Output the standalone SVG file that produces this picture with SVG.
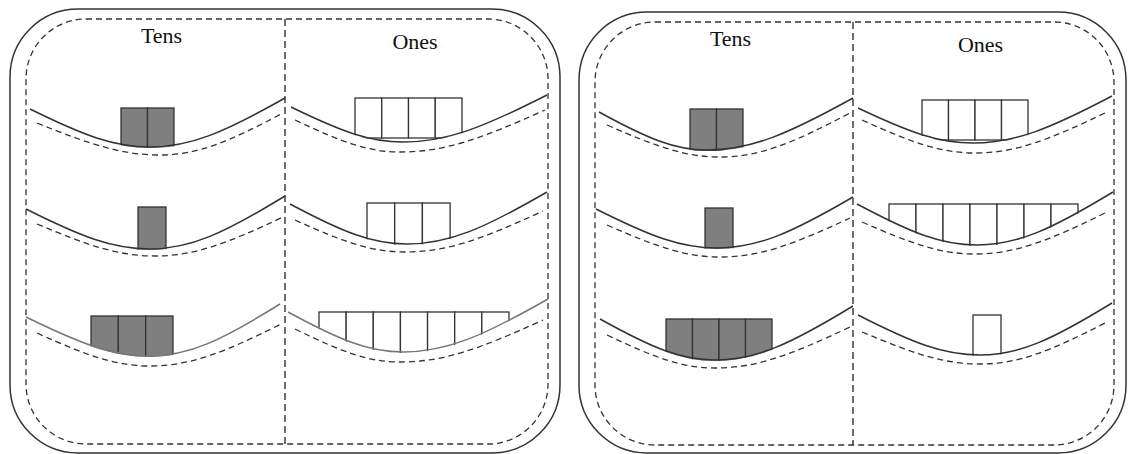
<svg xmlns="http://www.w3.org/2000/svg" width="1128" height="454" viewBox="0 0 1128 454">
<style>
.outer{fill:none;stroke:#333;stroke-width:1.5}
.inner{fill:none;stroke:#333;stroke-width:1.3;stroke-dasharray:6 4}
.div{fill:none;stroke:#222;stroke-width:1.3;stroke-dasharray:7 4}
.s{fill:none;stroke:#333;stroke-width:1.5}
.s3{fill:none;stroke:#777;stroke-width:1.5}
.d{fill:none;stroke:#333;stroke-width:1.3;stroke-dasharray:6 4}
.t{fill:#7f7f7f;stroke:#333;stroke-width:1.3}
.o{fill:#fff;stroke:#333;stroke-width:1.3}
.lbl{font-family:"Liberation Serif","Times New Roman",serif;font-size:22px;fill:#111;text-anchor:middle}
</style>
<defs>
<clipPath id="cLT1" clipPathUnits="userSpaceOnUse"><path transform="translate(0,1)" d="M30,109 C84,135.6 114,147 150,147 C190.5,147 224.25,132.3 285,98 L285,0 L30,0 Z"/></clipPath>
<clipPath id="cLO1" clipPathUnits="userSpaceOnUse"><path transform="translate(0,1)" d="M291,107 C341.4,131.5 369.4,142 403,142 C446.2,142 482.2,127.9 547,95 L547,0 L291,0 Z"/></clipPath>
<clipPath id="cLT2" clipPathUnits="userSpaceOnUse"><path transform="translate(0,1)" d="M26,209 C81.8,237 112.8,249 150,249 C190.5,249 224.25,233.1 285,196 L285,0 L26,0 Z"/></clipPath>
<clipPath id="cLO2" clipPathUnits="userSpaceOnUse"><path transform="translate(0,1)" d="M290,204 C342.65,232 371.9,244 407,244 C449,244 484,228.4 547,192 L547,0 L290,0 Z"/></clipPath>
<clipPath id="cLT3" clipPathUnits="userSpaceOnUse"><path transform="translate(0,1)" d="M26,317 C81.8,344.3 112.8,356 150,356 C189,356 221.5,340.4 280,304 L280,0 L26,0 Z"/></clipPath>
<clipPath id="cLO3" clipPathUnits="userSpaceOnUse"><path transform="translate(0,1)" d="M288,312 C339.75,340 368.5,352 403,352 C446.5,352 482.75,336.1 548,299 L548,0 L288,0 Z"/></clipPath>
<clipPath id="cRT1" clipPathUnits="userSpaceOnUse"><path transform="translate(0,1)" d="M599,112 C647.6,138.6 674.6,150 707,150 C750.8,150 787.3,134.4 853,98 L853,0 L599,0 Z"/></clipPath>
<clipPath id="cRO1" clipPathUnits="userSpaceOnUse"><path transform="translate(0,1)" d="M858,108 C909.75,132.5 938.5,143 973,143 C1014.7,143 1049.45,128.9 1112,96 L1112,0 L858,0 Z"/></clipPath>
<clipPath id="cRT2" clipPathUnits="userSpaceOnUse"><path transform="translate(0,1)" d="M596,209 C650.45,236.3 680.7,248 717,248 C757.8,248 791.8,232.7 853,197 L853,0 L596,0 Z"/></clipPath>
<clipPath id="cRO2" clipPathUnits="userSpaceOnUse"><path transform="translate(0,1)" d="M857,204 C911,232.7 941,245 977,245 C1017.8,245 1051.8,229.1 1113,192 L1113,0 L857,0 Z"/></clipPath>
<clipPath id="cRT3" clipPathUnits="userSpaceOnUse"><path transform="translate(0,1)" d="M600,319 C651.75,347.7 680.5,360 715,360 C756.4,360 790.9,343.8 853,306 L853,0 L600,0 Z"/></clipPath>
<clipPath id="cRO3" clipPathUnits="userSpaceOnUse"><path transform="translate(0,1)" d="M858,315 C912.9,343 943.4,355 980,355 C1019.6,355 1052.6,339.4 1112,303 L1112,0 L858,0 Z"/></clipPath>
</defs>
<rect width="1128" height="454" fill="#fff"/>

<g id="left-panel">
<rect class="outer" x="10" y="9" width="550" height="444" rx="68" ry="68"/>
<rect class="inner" x="26" y="19" width="522" height="425" rx="60" ry="60"/>
<line class="div" x1="285" y1="19" x2="285" y2="444"/>
<text class="lbl" x="161.5" y="43">Tens</text>
<text class="lbl" x="415" y="49">Ones</text>
<g id="left-tens-1">
<g clip-path="url(#cLT1)"><rect class="t" x="121" y="108" width="26.5" height="42"/><rect class="t" x="147.5" y="108" width="26.5" height="42"/></g>
<path class="s" d="M30,109 C84,135.6 114,147 150,147 C190.5,147 224.25,132.3 285,98"/>
<path class="d" d="M37,123 C92.35,145.4 123.1,155 160,155 C196.9,155 227.65,142.4 283,113"/>
</g>
<g id="left-ones-1">
<g clip-path="url(#cLO1)"><rect class="o" x="355" y="98" width="26.75" height="40"/><rect class="o" x="381.75" y="98" width="26.75" height="40"/><rect class="o" x="408.5" y="98" width="26.75" height="40"/><rect class="o" x="435.25" y="98" width="26.75" height="40"/></g>
<path class="s" d="M291,107 C341.4,131.5 369.4,142 403,142 C446.2,142 482.2,127.9 547,95"/>
<path class="d" d="M295,120 C342.25,142.4 368.5,152 400,152 C443.5,152 479.75,139.4 545,110"/>
</g>
<g id="left-tens-2">
<g clip-path="url(#cLT2)"><rect class="t" x="138" y="207" width="28" height="44"/></g>
<path class="s" d="M26,209 C81.8,237 112.8,249 150,249 C190.5,249 224.25,233.1 285,196"/>
<path class="d" d="M37,224 C90.1,246.4 119.6,256 155,256 C193.4,256 225.4,244.3 283,217"/>
</g>
<g id="left-ones-2">
<g clip-path="url(#cLO2)"><rect class="o" x="367" y="203" width="27.7" height="43"/><rect class="o" x="394.7" y="203" width="27.7" height="43"/><rect class="o" x="422.4" y="203" width="27.7" height="43"/></g>
<path class="s" d="M290,204 C342.65,232 371.9,244 407,244 C449,244 484,228.4 547,192"/>
<path class="d" d="M295,220 C344.5,242.4 372,252 405,252 C446.4,252 480.9,239.7 543,211"/>
</g>
<g id="left-tens-3">
<g clip-path="url(#cLT3)"><rect class="t" x="91" y="316" width="27.33" height="44"/><rect class="t" x="118.33" y="316" width="27.33" height="44"/><rect class="t" x="145.66" y="316" width="27.33" height="44"/></g>
<path class="s3" d="M26,317 C81.8,344.3 112.8,356 150,356 C189,356 221.5,340.4 280,304"/>
<path class="d" d="M37,333 C87.85,356.1 116.1,366 150,366 C189.9,366 223.15,353.1 283,323"/>
</g>
<g id="left-ones-3">
<g clip-path="url(#cLO3)"><rect class="o" x="319" y="312" width="27.14" height="45"/><rect class="o" x="346.14" y="312" width="27.14" height="45"/><rect class="o" x="373.28" y="312" width="27.14" height="45"/><rect class="o" x="400.42" y="312" width="27.14" height="45"/><rect class="o" x="427.56" y="312" width="27.14" height="45"/><rect class="o" x="454.7" y="312" width="27.14" height="45"/><rect class="o" x="481.84" y="312" width="27.14" height="45"/></g>
<path class="s3" d="M288,312 C339.75,340 368.5,352 403,352 C446.5,352 482.75,336.1 548,299"/>
<path class="d" d="M295,329 C342.25,352.1 368.5,362 400,362 C442.9,362 478.65,349.4 543,320"/>
</g>
</g>

<g id="right-panel">
<rect class="outer" x="579" y="12" width="547" height="441" rx="68" ry="68"/>
<rect class="inner" x="595" y="22" width="519" height="423" rx="60" ry="60"/>
<line class="div" x1="853" y1="22" x2="853" y2="445"/>
<text class="lbl" x="730.5" y="46">Tens</text>
<text class="lbl" x="980.5" y="51.5">Ones</text>
<g id="right-tens-1">
<g clip-path="url(#cRT1)"><rect class="t" x="690" y="109" width="26.5" height="42"/><rect class="t" x="716.5" y="109" width="26.5" height="42"/></g>
<path class="s" d="M599,112 C647.6,138.6 674.6,150 707,150 C750.8,150 787.3,134.4 853,98"/>
<path class="d" d="M607,125 C657.85,147.4 686.1,157 720,157 C759,157 791.5,143.8 850,113"/>
</g>
<g id="right-ones-1">
<g clip-path="url(#cRO1)"><rect class="o" x="922" y="100" width="26.5" height="40"/><rect class="o" x="948.5" y="100" width="26.5" height="40"/><rect class="o" x="975" y="100" width="26.5" height="40"/><rect class="o" x="1001.5" y="100" width="26.5" height="40"/></g>
<path class="s" d="M858,108 C909.75,132.5 938.5,143 973,143 C1014.7,143 1049.45,128.9 1112,96"/>
<path class="d" d="M862,120 C912.85,143.1 941.1,153 975,153 C1014.6,153 1047.6,140.7 1107,112"/>
</g>
<g id="right-tens-2">
<g clip-path="url(#cRT2)"><rect class="t" x="705" y="208" width="28" height="42"/></g>
<path class="s" d="M596,209 C650.45,236.3 680.7,248 717,248 C757.8,248 791.8,232.7 853,197"/>
<path class="d" d="M607,225 C657.85,247.4 686.1,257 720,257 C759,257 791.5,245.3 850,218"/>
</g>
<g id="right-ones-2">
<g clip-path="url(#cRO2)"><rect class="o" x="889" y="204" width="27" height="45"/><rect class="o" x="916" y="204" width="27" height="45"/><rect class="o" x="943" y="204" width="27" height="45"/><rect class="o" x="970" y="204" width="27" height="45"/><rect class="o" x="997" y="204" width="27" height="45"/><rect class="o" x="1024" y="204" width="27" height="45"/><rect class="o" x="1051" y="204" width="27" height="45"/></g>
<path class="s" d="M857,204 C911,232.7 941,245 977,245 C1017.8,245 1051.8,229.1 1113,192"/>
<path class="d" d="M862,222 C912.85,244.4 941.1,254 975,254 C1014.6,254 1047.6,241.4 1107,212"/>
</g>
<g id="right-tens-3">
<g clip-path="url(#cRT3)"><rect class="t" x="666" y="319" width="26.5" height="44"/><rect class="t" x="692.5" y="319" width="26.5" height="44"/><rect class="t" x="719" y="319" width="26.5" height="44"/><rect class="t" x="745.5" y="319" width="26.5" height="44"/></g>
<path class="s" d="M600,319 C651.75,347.7 680.5,360 715,360 C756.4,360 790.9,343.8 853,306"/>
<path class="d" d="M607,335 C655.6,358.1 682.6,368 715,368 C755.5,368 789.25,355.7 850,327"/>
</g>
<g id="right-ones-3">
<g clip-path="url(#cRO3)"><rect class="o" x="973" y="315" width="28" height="42"/></g>
<path class="s" d="M858,315 C912.9,343 943.4,355 980,355 C1019.6,355 1052.6,339.4 1112,303"/>
<path class="d" d="M862,332 C915.1,354.4 944.6,364 980,364 C1018.1,364 1049.85,351.4 1107,322"/>
</g>
</g>
</svg>
